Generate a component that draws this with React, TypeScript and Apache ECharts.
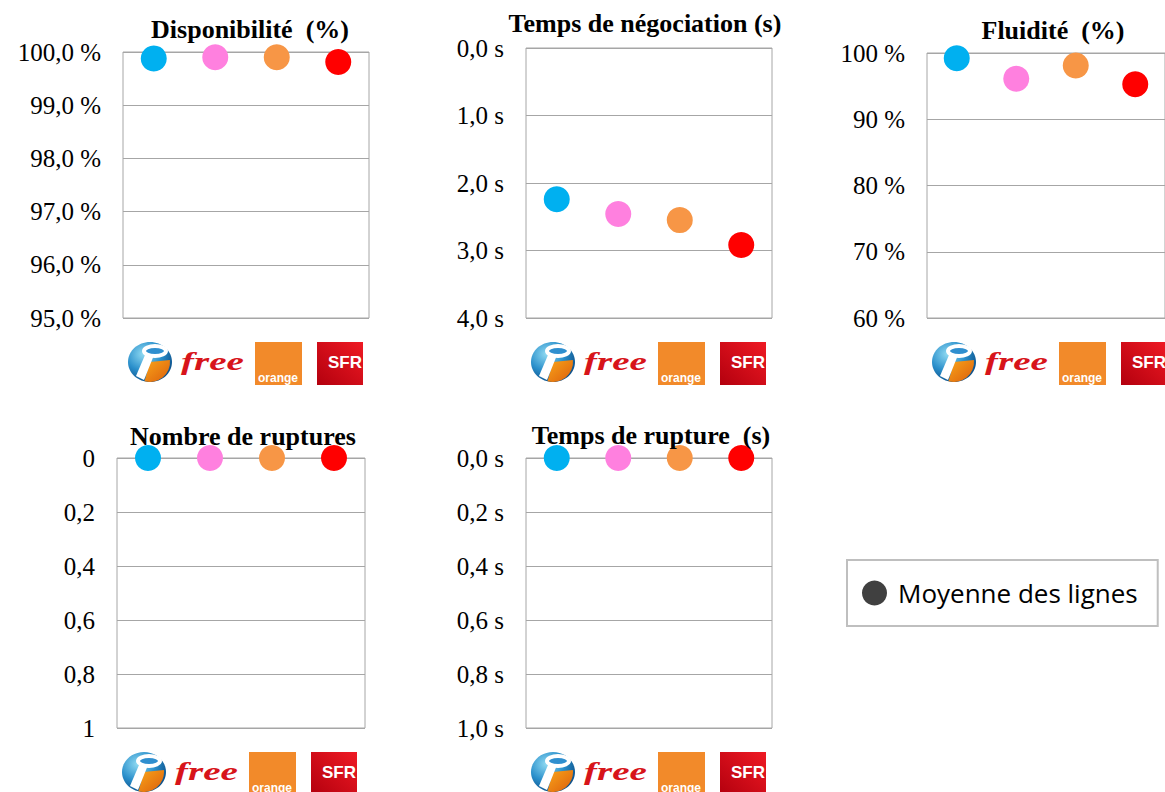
import React, { useEffect, useRef } from "react";
import * as echarts from "echarts";

// ---------- data ----------
const operators = ["Bouygues Telecom", "Free", "Orange", "SFR"];
const operatorColors = ["#00b0f0", "#ff80df", "#f79646", "#ff0000"];

const disponibilite = [99.88, 99.9, 99.9, 99.81];
const tempsNegociation = [2.24, 2.46, 2.55, 2.92];
const fluidite = [99.2, 96.1, 98.1, 95.3];
const nombreRuptures = [0, 0, 0, 0];
const tempsRupture = [0, 0, 0, 0];

const dispoTicks = ["95,0 %", "96,0 %", "97,0 %", "98,0 %", "99,0 %", "100,0 %"];
const negoTicks = ["0,0 s", "1,0 s", "2,0 s", "3,0 s", "4,0 s"];
const fluiditeTicks = ["60 %", "70 %", "80 %", "90 %", "100 %"];
const rupturesTicks = ["0", "0,2", "0,4", "0,6", "0,8", "1"];
const tempsRuptureTicks = ["0,0 s", "0,2 s", "0,4 s", "0,6 s", "0,8 s", "1,0 s"];

const titles = [
  "Disponibilité  (%)",
  "Temps de négociation (s)",
  "Fluidité  (%)",
  "Nombre de ruptures",
  "Temps de rupture  (s)",
];
const legendLabel = "Moyenne des lignes";

// ---------- layout ----------
const grids = [
  { left: 123, top: 52, width: 246, height: 266 },
  { left: 526, top: 48, width: 246, height: 270 },
  { left: 927, top: 53, width: 249, height: 265 },
  { left: 117, top: 458, width: 248, height: 270 },
  { left: 526, top: 458, width: 246, height: 270 },
];
const titlePos = [
  { x: 250, y: 16 },
  { x: 645, y: 10 },
  { x: 1053, y: 17 },
  { x: 243, y: 423 },
  { x: 651, y: 422 },
];

const axes = [
  { min: 95, max: 100, interval: 1, inverse: false, ticks: dispoTicks, values: disponibilite },
  { min: 0, max: 4, interval: 1, inverse: true, ticks: negoTicks, values: tempsNegociation },
  { min: 60, max: 100, interval: 10, inverse: false, ticks: fluiditeTicks, values: fluidite },
  { min: 0, max: 1, interval: 0.2, inverse: true, ticks: rupturesTicks, values: nombreRuptures },
  { min: 0, max: 1, interval: 0.2, inverse: true, ticks: tempsRuptureTicks, values: tempsRupture },
];

function logoGroup(left: number, bottom: number) {
  return {
    type: "group",
    x: left,
    y: bottom,
    silent: true,
    children: [
      // Bouygues Telecom sphere
      {
        type: "ellipse",
        shape: { cx: 27, cy: 44, rx: 22, ry: 20 },
        style: {
          fill: {
            type: "radial",
            x: 0.35,
            y: 0.3,
            r: 0.75,
            colorStops: [
              { offset: 0, color: "#8fdaf2" },
              { offset: 0.55, color: "#2a8fcb" },
              { offset: 1, color: "#0a4c86" },
            ],
          },
        },
      },
      {
        type: "sector",
        shape: { cx: 27, cy: 44, r: 20, r0: 0, startAngle: -0.1, endAngle: 1.85, clockwise: true },
        style: {
          fill: {
            type: "linear",
            x: 0,
            y: 0,
            x2: 1,
            y2: 1,
            colorStops: [
              { offset: 0, color: "#f9a51a" },
              { offset: 1, color: "#dc5f0c" },
            ],
          },
        },
      },
      {
        type: "polygon",
        shape: { points: [[22, 37], [31, 37], [21, 62], [13, 58]] },
        style: { fill: "#ffffff" },
      },
      {
        type: "ellipse",
        shape: { cx: 32, cy: 33, rx: 11, ry: 5 },
        style: { fill: "#2f8fcf", stroke: "#ffffff", lineWidth: 4 },
      },
      // Free
      {
        type: "text",
        x: 58,
        y: 43,
        scaleX: 1.5,
        style: {
          text: "free",
          x: 0,
          y: 0,
          fill: "#d7141a",
          fontFamily: "Liberation Serif",
          fontStyle: "italic",
          fontWeight: "bold",
          fontSize: 26,
          verticalAlign: "middle",
          align: "left",
        },
      },
      // Orange
      {
        type: "rect",
        shape: { x: 132, y: 24, width: 47, height: 43 },
        style: { fill: "#f28a2a" },
      },
      {
        type: "text",
        style: {
          text: "orange",
          x: 135,
          y: 66,
          fill: "#ffffff",
          fontFamily: "Liberation Sans",
          fontWeight: "bold",
          fontSize: 12,
          verticalAlign: "bottom",
          align: "left",
        },
      },
      // SFR
      {
        type: "rect",
        shape: { x: 194, y: 24, width: 46, height: 43 },
        style: {
          fill: {
            type: "linear",
            x: 1,
            y: 0,
            x2: 0,
            y2: 1,
            colorStops: [
              { offset: 0, color: "#ef1a24" },
              { offset: 1, color: "#b3000e" },
            ],
          },
        },
      },
      {
        type: "text",
        style: {
          text: "SFR",
          x: 222,
          y: 44,
          fill: "#ffffff",
          fontFamily: "Liberation Sans",
          fontWeight: "bold",
          fontSize: 17,
          verticalAlign: "middle",
          align: "center",
        },
      },
    ],
  };
}

export default function App() {
  const ref = useRef<HTMLDivElement>(null);

  useEffect(() => {
    if (!ref.current) return;
    const chart = echarts.init(ref.current, undefined, { renderer: "svg" });

    const option: any = {
      animation: false,
      backgroundColor: "#ffffff",
      title: titles.map((t, i) => ({
        text: t,
        left: titlePos[i].x,
        top: titlePos[i].y,
        textAlign: "center",
        padding: 0,
        textStyle: {
          fontFamily: "Liberation Serif",
          fontWeight: "bold",
          fontSize: 26,
          color: "#000000",
        },
      })),
      legend: {
        left: 847,
        top: 560,
        padding: [20, 20, 20, 15],
        itemWidth: 25,
        itemHeight: 25,
        icon: "circle",
        borderColor: "#bfbfbf",
        borderWidth: 2,
        backgroundColor: "#ffffff",
        selectedMode: false,
        itemStyle: { color: "#404040", opacity: 1 },
        textStyle: {
          fontFamily: "Open Sans",
          fontSize: 26,
          color: "#000000",
          padding: [0, 0, 0, 6],
        },
        data: [legendLabel],
      },
      grid: grids.map((g) => ({
        ...g,
        show: true,
        borderColor: "#a6a6a6",
        borderWidth: 1,
        containLabel: false,
      })),
      xAxis: grids.map((_, i) => ({
        type: "category",
        gridIndex: i,
        data: operators,
        boundaryGap: true,
        axisLabel: { show: false },
        axisTick: { show: false },
        axisLine: { show: false },
        splitLine: { show: false },
      })),
      yAxis: axes.map((a, i) => ({
        type: "value",
        gridIndex: i,
        min: a.min,
        max: a.max,
        interval: a.interval,
        inverse: a.inverse,
        axisLine: { show: false },
        axisTick: { show: false },
        splitLine: { show: true, lineStyle: { color: "#a6a6a6", width: 1 } },
        axisLabel: {
          margin: 22,
          color: "#000000",
          fontFamily: "Liberation Serif",
          fontSize: 25,
          formatter: (v: number) => a.ticks[Math.round((v - a.min) / a.interval)] ?? "",
        },
      })),
      series: axes.map((a, i) => ({
        type: "scatter",
        name: legendLabel,
        xAxisIndex: i,
        yAxisIndex: i,
        symbol: "circle",
        symbolSize: 26,
        clip: false,
        z: 5,
        itemStyle: { opacity: 1 },
        data: a.values.map((v, j) => ({
          value: v,
          itemStyle: { color: operatorColors[j], opacity: 1 },
        })),
      })),
      graphic: grids.map((g) => logoGroup(g.left, g.top + g.height)),
    };

    chart.setOption(option);
    return () => chart.dispose();
  }, []);

  return (
    <div
      ref={ref}
      style={{ position: "fixed", left: 0, top: 0, width: 1165, height: 792, background: "#fff" }}
    />
  );
}
